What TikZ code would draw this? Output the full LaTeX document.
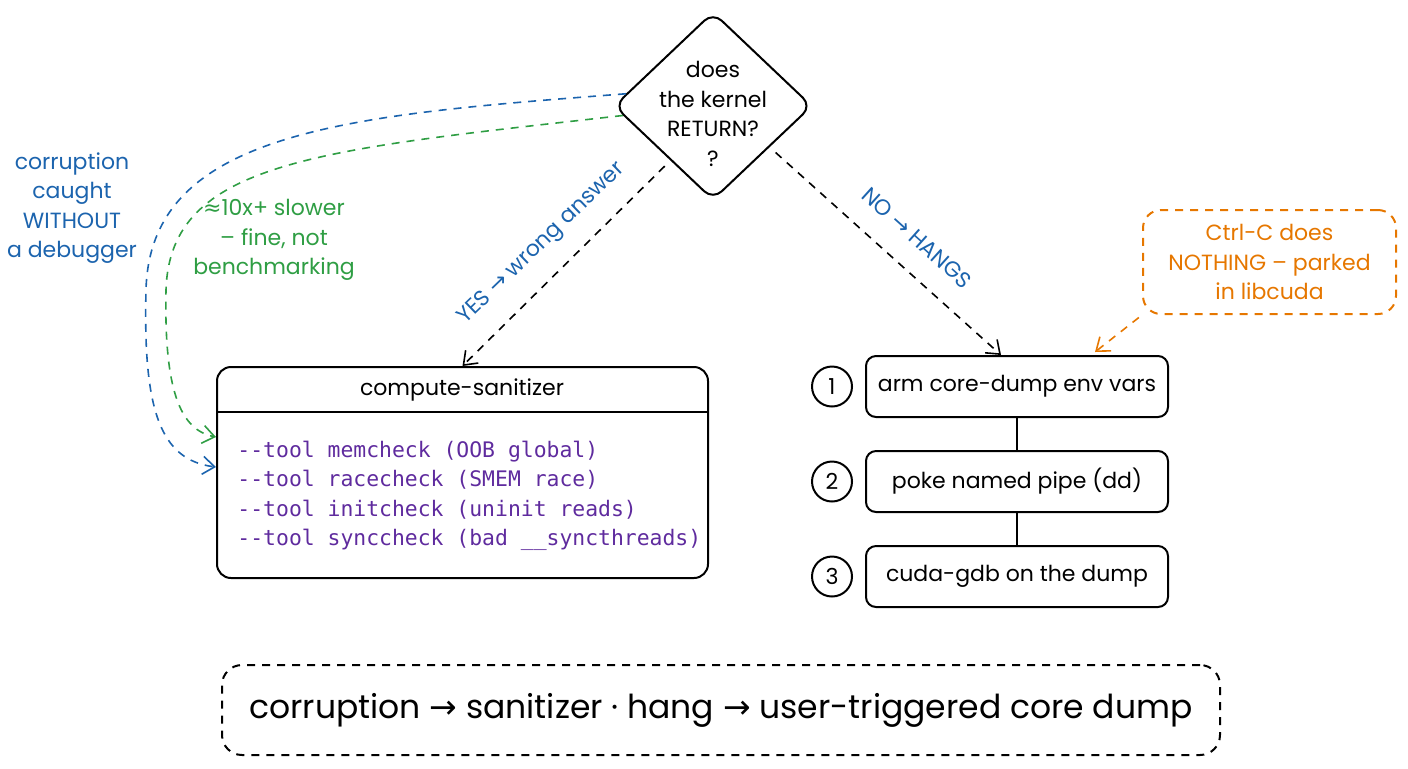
\documentclass[tikz,border=0pt]{standalone}
\usepackage{fontspec}
\setmainfont{Poppins}
\setmonofont{DejaVu Sans Mono}
\newfontfamily\symbfont{DejaVu Sans}
\usetikzlibrary{arrows.meta,shapes.geometric}
\definecolor{noteblue}{HTML}{1C64AE}
\definecolor{notegreen}{HTML}{2F9E44}
\definecolor{noteorange}{HTML}{E67700}
\definecolor{tooltext}{HTML}{5F2B9E}
\newcommand{\rarr}{{\symbfont →}}

\begin{document}
\begin{tikzpicture}[x=0.5pt,y=-0.5pt,>={Straight Barb[length=6pt,width=9pt]},line width=0.8pt,
    box/.style={draw,rounded corners=7pt,line width=1pt},
    dashline/.style={dash pattern=on 4pt off 3.5pt},
    txt/.style={font=\fontsize{11}{14.8}\selectfont,align=center}]
        \useasboundingbox (0,0) rectangle (1408,768);
        \node[diamond,draw,line width=1pt,rounded corners=6pt,minimum width=99pt,minimum height=94pt,inner sep=0pt] (kernel) at (713,106) {};
        \node[txt] (kernelq) at (713,114) {does\\the kernel\\RETURN?\\?};
        \node[box,minimum width=245.5pt,minimum height=105.5pt] (san) at (462.5,472.5) {};
        \draw[line width=1pt] (san.west |- 0,412) -- (san.east |- 0,412);
        \node[txt] (santitle) at (462,390) {compute-sanitizer};
        \node[font=\ttfamily\fontsize{10.7}{14.75}\selectfont,text=tooltext,align=left,anchor=west] (santools) at (230,496)
            {-{}-tool memcheck (OOB global)\\-{}-tool racecheck (SMEM race)\\-{}-tool initcheck (uninit reads)\\-{}-tool synccheck (bad \_\_syncthreads)};
        \foreach \n/\y/\lbl in {1/386.5/arm core-dump env vars,2/481.5/poke named pipe (dd),3/576.5/cuda-gdb on the dump} {
            \node[box,rounded corners=5pt,minimum width=151pt,minimum height=30.5pt,txt] (dump\n) at (1017,\y) {\lbl};
            \node[draw,circle,line width=1pt,minimum size=20pt,inner sep=0pt,txt] (num\n) at (832,\y) {\n};
        }
        \draw (dump1) -- (dump2);
        \draw (dump2) -- (dump3);
        \draw[->,dashline,shorten <=4pt] (kernel.232) -- (san.north);
        \node[txt,text=noteblue,rotate=44] (yeslbl) at (542,244) {YES \rarr{} wrong answer};
        \draw[->,dashline,shorten <=4pt] (kernel.-36) -- ([xshift=-8pt]dump1.north);
        \node[txt,text=noteblue,rotate=-42] (nolbl) at (917,238) {NO \rarr{} HANGS};
        \node[box,draw=noteorange,dashline,rounded corners=9pt,minimum width=126.5pt,minimum height=52pt,txt,text=noteorange] (ctrlc) at (1269.5,262)
            {Ctrl-C does\\NOTHING – parked\\in libcuda};
        \coordinate (ctrltip) at (1095,352);
        \draw[->,dashline,noteorange,shorten <=2pt] (ctrlc.south west) -- (ctrltip);
        \draw[->,dashline,noteblue] (kernel.172) .. controls (350,115) and (150,130) .. (146,290)
            .. controls (143,410) and (160,460) .. (san.west |- 0,467);
        \draw[->,dashline,notegreen] (kernel.186) .. controls (320,150) and (170,160) .. (166,290)
            .. controls (164,390) and (180,430) .. (san.west |- 0,437);
        \node[txt,text=noteblue] (blulbl) at (72,208) {corruption\\caught\\WITHOUT\\a debugger};
        \node[txt,text=notegreen] (grnlbl) at (274,240) {{\symbfont ≈}10x+ slower\\– fine, not\\benchmarking};
        \node[box,dashline,rounded corners=10pt,minimum width=499pt,minimum height=45pt,font=\fontsize{16.5}{19}\selectfont] (summary) at (721,710)
            {corruption \rarr{} sanitizer · hang \rarr{} user-triggered core dump};
    \end{tikzpicture}
\end{document}
